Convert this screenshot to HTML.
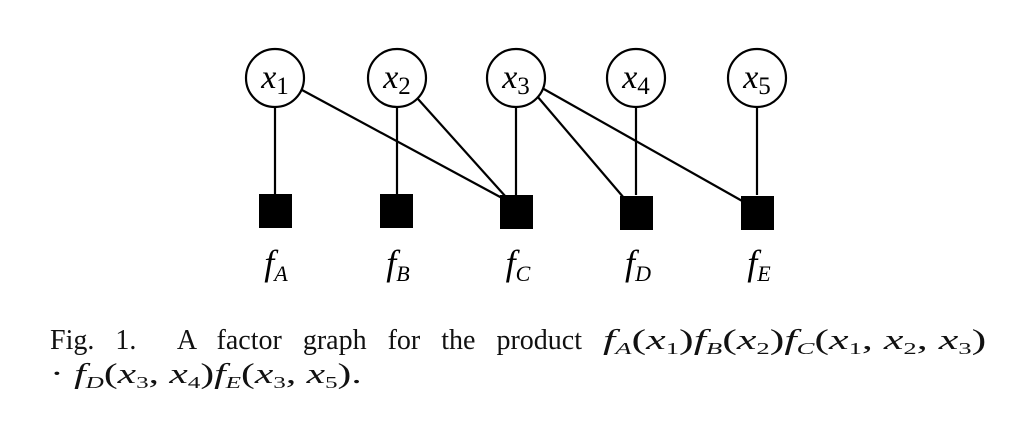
<!DOCTYPE html>
<html><head><meta charset="utf-8"><style>
html,body{margin:0;padding:0;background:#fff;}
body{width:1018px;height:438px;position:relative;overflow:hidden;font-family:"Liberation Serif",serif;}
.cap{position:absolute;font-size:28px;color:#111;white-space:nowrap;}
i{font-style:italic;}
sub{font-size:17px;vertical-align:-5px;}
.m{transform-origin:0 0;}
</style></head><body>
<svg width="1018" height="438" style="position:absolute;left:0;top:0">
<g stroke="#000" stroke-width="2.2" fill="none">
<line x1="275" y1="107" x2="275" y2="195"/>
<line x1="397" y1="107" x2="397" y2="195"/>
<line x1="516" y1="107" x2="516" y2="195"/>
<line x1="636" y1="107" x2="636" y2="195"/>
<line x1="757" y1="107" x2="757" y2="195"/>
<line x1="302" y1="90" x2="502" y2="198"/>
<line x1="418" y1="99" x2="506" y2="197"/>
<line x1="537" y1="96" x2="624" y2="198"/>
<line x1="542" y1="88" x2="744" y2="202"/>
<circle cx="275" cy="78" r="29" fill="#fff"/>
<circle cx="397" cy="78" r="29" fill="#fff"/>
<circle cx="516" cy="78" r="29" fill="#fff"/>
<circle cx="636" cy="78" r="29" fill="#fff"/>
<circle cx="757" cy="78" r="29" fill="#fff"/>
</g>
<g fill="#000">
<rect x="259" y="194" width="33" height="34"/>
<rect x="380" y="194" width="33" height="34"/>
<rect x="500" y="195" width="33" height="34"/>
<rect x="620" y="196" width="33" height="34"/>
<rect x="741" y="196" width="33" height="34"/>
</g>
<g font-family="Liberation Serif,serif" font-style="italic" font-size="34" fill="#000" text-anchor="middle">
<text x="275" y="88">x<tspan font-style="normal" font-size="25" dy="6">1</tspan></text>
<text x="397" y="88">x<tspan font-style="normal" font-size="25" dy="6">2</tspan></text>
<text x="516" y="88">x<tspan font-style="normal" font-size="25" dy="6">3</tspan></text>
<text x="636" y="88">x<tspan font-style="normal" font-size="25" dy="6">4</tspan></text>
<text x="757" y="88">x<tspan font-style="normal" font-size="25" dy="6">5</tspan></text>
</g>
<g font-family="Liberation Serif,serif" font-style="italic" font-size="36" fill="#000" text-anchor="middle">
<text x="276" y="275">f<tspan font-size="22" dy="6">A</tspan></text>
<text x="398" y="275">f<tspan font-size="22" dy="6">B</tspan></text>
<text x="518" y="275">f<tspan font-size="22" dy="6">C</tspan></text>
<text x="638" y="275">f<tspan font-size="22" dy="6">D</tspan></text>
<text x="759" y="275">f<tspan font-size="22" dy="6">E</tspan></text>
</g>
</svg>
<div class="cap" style="left:50px;top:325px;width:532px;text-align:justify;text-align-last:justify;">Fig.&nbsp;1.&nbsp; A factor graph for the product</div>
<div class="cap m" style="left:603px;top:325px;transform:scaleX(1.57);"><i>f<sub>A</sub></i>(<i>x</i><sub>1</sub>)<i>f<sub>B</sub></i>(<i>x</i><sub>2</sub>)<i>f<sub>C</sub></i>(<i>x</i><sub>1</sub>, <i>x</i><sub>2</sub>, <i>x</i><sub>3</sub>)</div>
<div class="cap m" style="left:50px;top:359px;transform:scaleX(1.48);">· <i>f<sub>D</sub></i>(<i>x</i><sub>3</sub>, <i>x</i><sub>4</sub>)<i>f<sub>E</sub></i>(<i>x</i><sub>3</sub>, <i>x</i><sub>5</sub>).</div>
</body></html>
